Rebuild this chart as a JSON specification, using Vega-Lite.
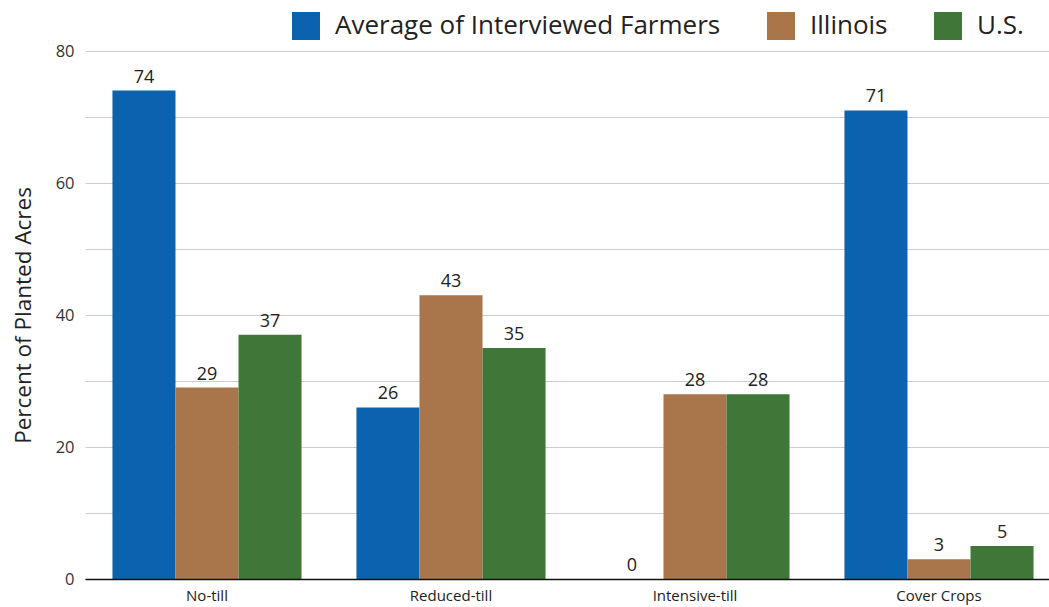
{
  "$schema": "https://vega.github.io/schema/vega-lite/v6.json",
  "autosize": {"type": "none"},
  "padding": {"left": 85, "top": 51, "right": 0, "bottom": 28},
  "width": 964,
  "height": 528,
  "background": "white",
  "config": {
    "font": "Open Sans",
    "view": {"stroke": null}
  },
  "data": {
    "values": [
      {"practice": "No-till", "source": "Average of Interviewed Farmers", "value": 74},
      {"practice": "No-till", "source": "Illinois", "value": 29},
      {"practice": "No-till", "source": "U.S.", "value": 37},
      {"practice": "Reduced-till", "source": "Average of Interviewed Farmers", "value": 26},
      {"practice": "Reduced-till", "source": "Illinois", "value": 43},
      {"practice": "Reduced-till", "source": "U.S.", "value": 35},
      {"practice": "Intensive-till", "source": "Average of Interviewed Farmers", "value": 0},
      {"practice": "Intensive-till", "source": "Illinois", "value": 28},
      {"practice": "Intensive-till", "source": "U.S.", "value": 28},
      {"practice": "Cover Crops", "source": "Average of Interviewed Farmers", "value": 71},
      {"practice": "Cover Crops", "source": "Illinois", "value": 3},
      {"practice": "Cover Crops", "source": "U.S.", "value": 5}
    ]
  },
  "encoding": {
    "x": {
      "field": "practice",
      "type": "nominal",
      "sort": ["No-till", "Reduced-till", "Intensive-till", "Cover Crops"],
      "scale": {"paddingInner": 0.225, "paddingOuter": 0.1125, "range": [0, 976]},
      "axis": {
        "title": null,
        "labelAngle": 0,
        "labelFontSize": 15,
        "labelColor": "#222",
        "labelPadding": 9,
        "ticks": false,
        "domainColor": "#111",
        "domainWidth": 1.5,
        "zindex": 1
      }
    },
    "xOffset": {
      "field": "source",
      "type": "nominal",
      "sort": ["Average of Interviewed Farmers", "Illinois", "U.S."],
      "scale": {"paddingInner": 0}
    },
    "y": {
      "field": "value",
      "type": "quantitative",
      "scale": {"domain": [0, 80], "nice": false},
      "axis": {
        "title": "Percent of Planted Acres",
        "titleFontSize": 22.5,
        "titleFontWeight": "normal",
        "titleColor": "#222",
        "titlePadding": 20,
        "values": [0, 10, 20, 30, 40, 50, 60, 70, 80],
        "labelExpr": "datum.value % 20 === 0 ? datum.label : ''",
        "labelFontSize": 16.5,
        "labelColor": "#333",
        "labelPadding": 11,
        "ticks": false,
        "domain": false,
        "gridColor": "#cccccc",
        "gridWidth": 1
      }
    }
  },
  "layer": [
    {
      "mark": {"type": "bar"},
      "encoding": {
        "color": {
          "field": "source",
          "type": "nominal",
          "sort": ["Average of Interviewed Farmers", "Illinois", "U.S."],
          "scale": {
            "domain": ["Average of Interviewed Farmers", "Illinois", "U.S."],
            "range": ["#0b63b0", "#a8764a", "#3f7739"]
          },
          "legend": {
            "title": null,
            "orient": "none",
            "direction": "horizontal",
            "legendX": 207,
            "legendY": -39,
            "symbolType": "square",
            "symbolSize": 784,
            "symbolStrokeWidth": 0,
            "symbolOpacity": 1,
            "labelFontSize": 26,
            "labelColor": "#222",
            "labelOffset": 15,
            "labelLimit": 600,
            "columnPadding": 46
          }
        }
      }
    },
    {
      "mark": {"type": "text", "baseline": "bottom", "dy": -4, "fontSize": 18, "color": "#222"},
      "encoding": {
        "text": {"field": "value", "type": "quantitative"}
      }
    }
  ]
}
